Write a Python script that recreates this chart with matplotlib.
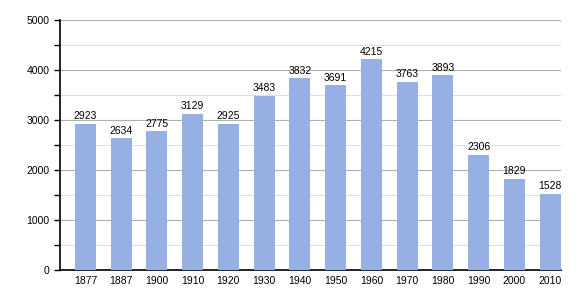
import matplotlib.pyplot as plt
import numpy as np

# Données
annees = ['1877', '1887', '1900', '1910', '1920', '1930', '1940',
          '1950', '1960', '1970', '1980', '1990', '2000', '2010']
population = [2923, 2634, 2775, 3129, 2925, 3483, 3832,
              3691, 4215, 3763, 3893, 2306, 1829, 1528]

plt.rcParams['font.family'] = ['Liberation Sans', 'DejaVu Sans']

fig = plt.figure(figsize=(5.8, 3.0), dpi=100)
ax = fig.add_axes([0.1034, 0.1, 0.8636, 0.8333])

x = np.arange(len(annees))
bars = ax.bar(x, population, width=0.59, color='#97b0e3', zorder=3)

for xi, v in zip(x, population):
    ax.text(xi, v + 50, str(v), ha='center', va='bottom', fontsize=7.5, zorder=4)

ax.set_xlim(-0.71, 13.3)
ax.set_ylim(0, 5000)
ax.set_xticks(x)
ax.set_xticklabels(annees, fontsize=7.5)
ax.set_yticks(range(0, 5001, 1000))
ax.set_yticks(range(500, 5000, 1000), minor=True)
ax.tick_params(axis='y', labelsize=7.5, length=4, width=1)
ax.tick_params(axis='y', which='minor', length=4, width=1)
ax.tick_params(axis='x', length=0, pad=4)

ax.grid(axis='y', which='major', color='#b0b0b0', linewidth=0.8, zorder=0)
ax.grid(axis='y', which='minor', color='#e0e0e0', linewidth=0.8, zorder=0)

for s in ['top', 'right']:
    ax.spines[s].set_visible(False)
ax.spines['left'].set_linewidth(1.2)
ax.spines['bottom'].set_linewidth(1.2)

fig.savefig('out.png', dpi=100)
